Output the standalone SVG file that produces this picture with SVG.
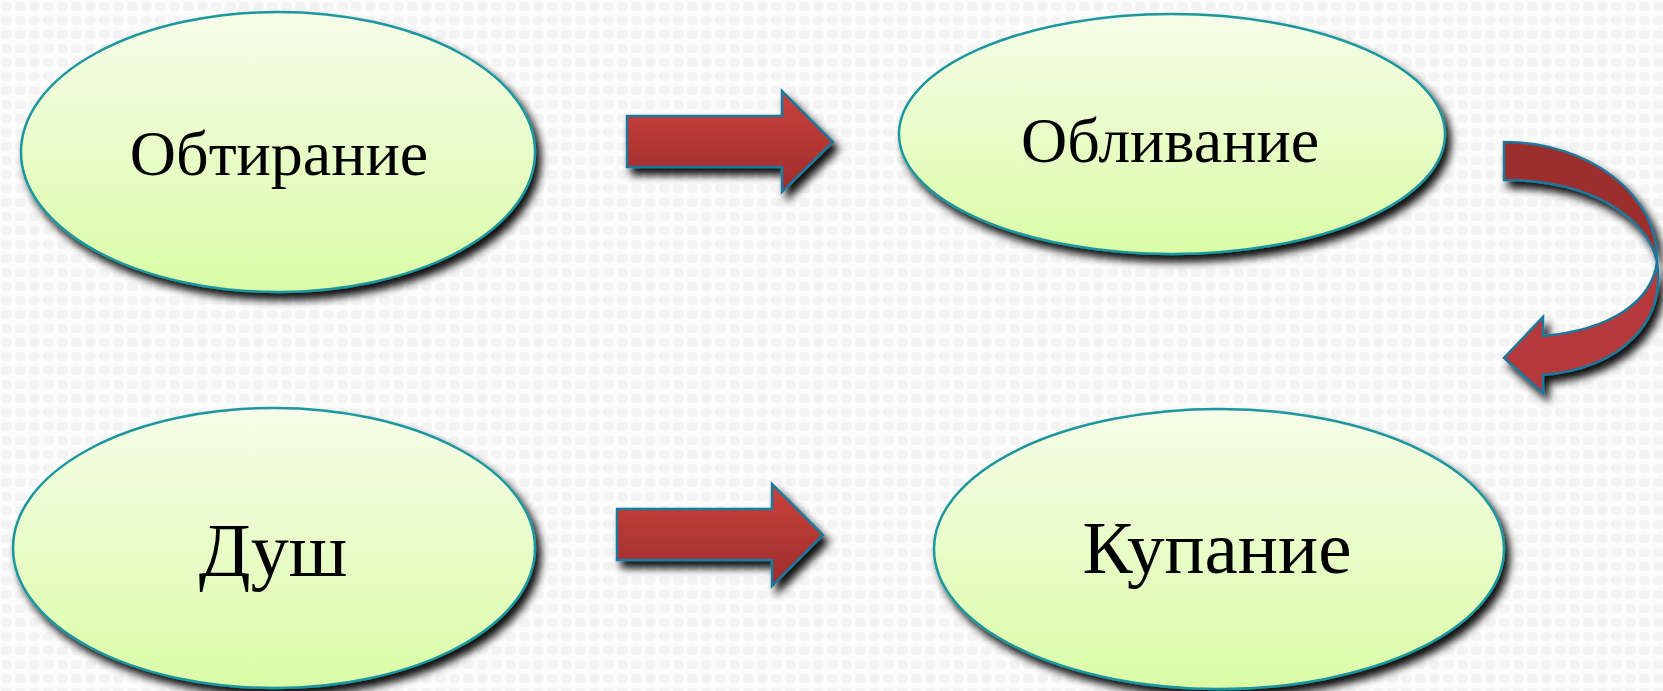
<svg xmlns="http://www.w3.org/2000/svg" width="1663" height="691" viewBox="0 0 1663 691">
<defs>
  <pattern id="bg" width="14" height="14" patternUnits="userSpaceOnUse">
    <rect width="14" height="14" fill="#fcfcfc"/>
    <rect x="1" y="2" width="11" height="9" rx="4.5" fill="#f3f3f3"/>
  </pattern>
  <linearGradient id="ell" x1="0" y1="0" x2="0" y2="1">
    <stop offset="0" stop-color="#f6fde9"/>
    <stop offset="1" stop-color="#dafca6"/>
  </linearGradient>
  <linearGradient id="arr" x1="0" y1="0" x2="0" y2="1">
    <stop offset="0" stop-color="#cc423c"/>
    <stop offset="1" stop-color="#9c2c2b"/>
  </linearGradient>
  <filter id="sh" x="-10%" y="-10%" width="125%" height="130%">
    <feGaussianBlur in="SourceAlpha" stdDeviation="4"/>
    <feOffset dx="5" dy="7" result="b"/>
    <feComponentTransfer><feFuncA type="linear" slope="0.95"/></feComponentTransfer>
    <feMerge><feMergeNode/><feMergeNode in="SourceGraphic"/></feMerge>
  </filter>
  <style>
    .node ellipse { fill: url(#ell); stroke: #1a979f; stroke-width: 2.5; }
    .node text { font-family: "Liberation Serif", "Times New Roman", serif; fill: #000; text-anchor: middle; }
    .arrow { fill: url(#arr); stroke: #1f789c; stroke-width: 2.5; stroke-linejoin: miter; }
  </style>
</defs>
<rect width="1663" height="691" fill="url(#bg)"/>

<g id="node-obtiranie" class="node" filter="url(#sh)">
  <ellipse cx="278" cy="152" rx="257" ry="140"/>
  <text x="279" y="175" font-size="64">Обтирание</text>
</g>
<g id="node-oblivanie" class="node" filter="url(#sh)">
  <ellipse cx="1172" cy="134" rx="273" ry="120"/>
  <text x="1170" y="162" font-size="64">Обливание</text>
</g>
<g id="node-dush" class="node" filter="url(#sh)">
  <ellipse cx="274" cy="548" rx="261" ry="140"/>
  <text x="273" y="576" font-size="76">Душ</text>
</g>
<g id="node-kupanie" class="node" filter="url(#sh)">
  <ellipse cx="1219" cy="549" rx="285" ry="140"/>
  <text x="1217" y="573" font-size="75">Купание</text>
</g>

<g id="connectors" filter="url(#sh)">
  <path class="arrow" d="M627,116 L782,116 L782,91 L833,142 L782,192 L782,167 L627,167 Z"/>
  <path class="arrow" d="M617,509 L772,509 L772,484 L823,535 L772,586 L772,560 L617,560 Z"/>
  <path class="arrow" style="fill:#9d2f2d" d="M1504,142 C1590,142 1659,195 1657,262 C1648,218 1592,180 1504,180 Z"/>
  <path class="arrow" style="fill:#b5383a" d="M1657,262 C1652,302 1610,330 1543,336 L1543,317 L1504,358 L1543,393 L1543,375 C1622,368 1666,322 1657,262 Z"/>
</g>
</svg>
